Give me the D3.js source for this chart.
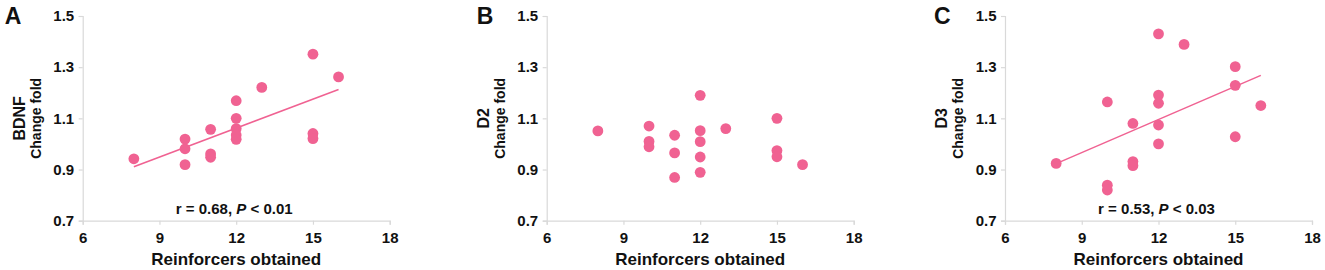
<!DOCTYPE html>
<html><head><meta charset="utf-8">
<script src="https://cdn.jsdelivr.net/npm/d3@7"></script>
<style>body{margin:0;background:#fff}svg{display:block}text{font-family:"Liberation Sans",Arial,sans-serif;font-weight:bold;fill:#111}</style>
</head><body><svg id="c" width="1325" height="270"></svg>
<script>
const xTicks = [6, 9, 12, 15, 18];
const yTicks = [0.7, 0.9, 1.1, 1.3, 1.5];
const xLabel = "Reinforcers obtained";
const yLabel = "Change fold";
const letters = ["A", "B", "C"];
const genes = ["BDNF", "D2", "D3"];

const reinfA = [8, 10, 10, 10, 11, 11, 11, 12, 12, 12, 12, 12, 13, 15, 15, 15, 16];
const bdnfFold = [0.942, 1.019, 0.981, 0.919, 1.057, 0.961, 0.948, 1.169, 1.100, 1.060, 1.035, 1.018, 1.221, 1.351, 1.041, 1.021, 1.262];
const reinfB = [8, 10, 10, 10, 11, 11, 11, 12, 12, 12, 12, 12, 13, 15, 15, 15, 16];
const d2Fold = [1.051, 1.070, 1.010, 0.989, 1.034, 0.965, 0.869, 1.190, 1.052, 1.009, 0.949, 0.889, 1.060, 1.100, 0.974, 0.950, 0.919];
const reinfC = [8, 10, 10, 10, 11, 11, 11, 12, 12, 12, 12, 12, 13, 15, 15, 15, 16];
const d3Fold = [0.924, 1.164, 0.839, 0.820, 1.080, 0.931, 0.915, 1.430, 1.191, 1.159, 1.074, 1.000, 1.389, 1.302, 1.229, 1.028, 1.150];

const fitX = [8, 16];
const fitA = [0.911, 1.213];
const fitC = [0.923, 1.268];
const statsR = ["0.68", null, "0.53"];
const statsP = ["0.01", null, "0.03"];

const panels = [
  {x: reinfA, y: bdnfFold, fit: fitA},
  {x: reinfB, y: d2Fold, fit: null},
  {x: reinfC, y: d3Fold, fit: fitC}
];
const axisLeft = [82.7, 546.7, 1005];
const letterOff = [-78, -70, -71];
const W = 307, plotTop = 16, plotBottom = 220.7;
const pink = "#f06292", gridc = "#d9d9d9";

const svg = d3.select("#c");
panels.forEach((p, i) => {
  const x0 = axisLeft[i];
  const xs = d3.scaleLinear().domain([6, 18]).range([x0, x0 + W]);
  const ys = d3.scaleLinear().domain([0.7, 1.5]).range([plotBottom, plotTop]);
  const g = svg.append("g");

  const xa = g.append("g").attr("transform", `translate(0,${plotBottom})`)
    .call(d3.axisBottom(xs).tickValues(xTicks).tickSize(4).tickPadding(8).tickFormat(d3.format("d")));
  const ya = g.append("g").attr("transform", `translate(${x0},0)`)
    .call(d3.axisLeft(ys).tickValues(yTicks).tickSize(4).tickPadding(4.5).tickFormat(d3.format(".1f")));
  [xa, ya].forEach(a => {
    a.attr("font-size", 15).attr("font-family", '"Liberation Sans",Arial,sans-serif').attr("font-weight", "bold");
    a.select(".domain").attr("stroke", gridc).attr("stroke-width", 1.2);
    a.selectAll(".tick line").attr("stroke", gridc).attr("stroke-width", 1.2);
    a.selectAll(".tick text").style("font-size", "15px").attr("fill", "#111");
  });

  if (p.fit) {
    g.append("line").attr("x1", xs(fitX[0])).attr("y1", ys(p.fit[0]))
      .attr("x2", xs(fitX[1])).attr("y2", ys(p.fit[1]))
      .attr("stroke", pink).attr("stroke-width", 1.5);
  }
  g.selectAll("circle.d").data(p.x.map((v, k) => [v, p.y[k]])).enter()
    .append("circle").attr("cx", d => xs(d[0])).attr("cy", d => ys(d[1]))
    .attr("r", 5.4).attr("fill", pink);

  g.append("text").attr("x", (x0 + x0 + W) / 2).attr("y", 265)
    .attr("text-anchor", "middle").style("font-size", "17px").text(xLabel);
  g.append("text").attr("transform", `translate(${x0 - 58},${(plotTop + plotBottom) / 2}) rotate(-90)`)
    .attr("text-anchor", "middle").style("font-size", "16px").text(genes[i]);
  g.append("text").attr("transform", `translate(${x0 - 42},${(plotTop + plotBottom) / 2}) rotate(-90)`)
    .attr("text-anchor", "middle").style("font-size", "14px").text(yLabel);
  g.append("text").attr("x", x0 + letterOff[i]).attr("y", 23.5)
    .style("font-size", "23px").text(letters[i]);

  if (statsR[i]) {
    const t = g.append("text").attr("x", (x0 + x0 + W) / 2 - 2).attr("y", 214)
      .attr("text-anchor", "middle").style("font-size", "15px");
    t.append("tspan").text(`r = ${statsR[i]}, `);
    t.append("tspan").style("font-style", "italic").text("P");
    t.append("tspan").text(` < ${statsP[i]}`);
  }
});
</script></body></html>
